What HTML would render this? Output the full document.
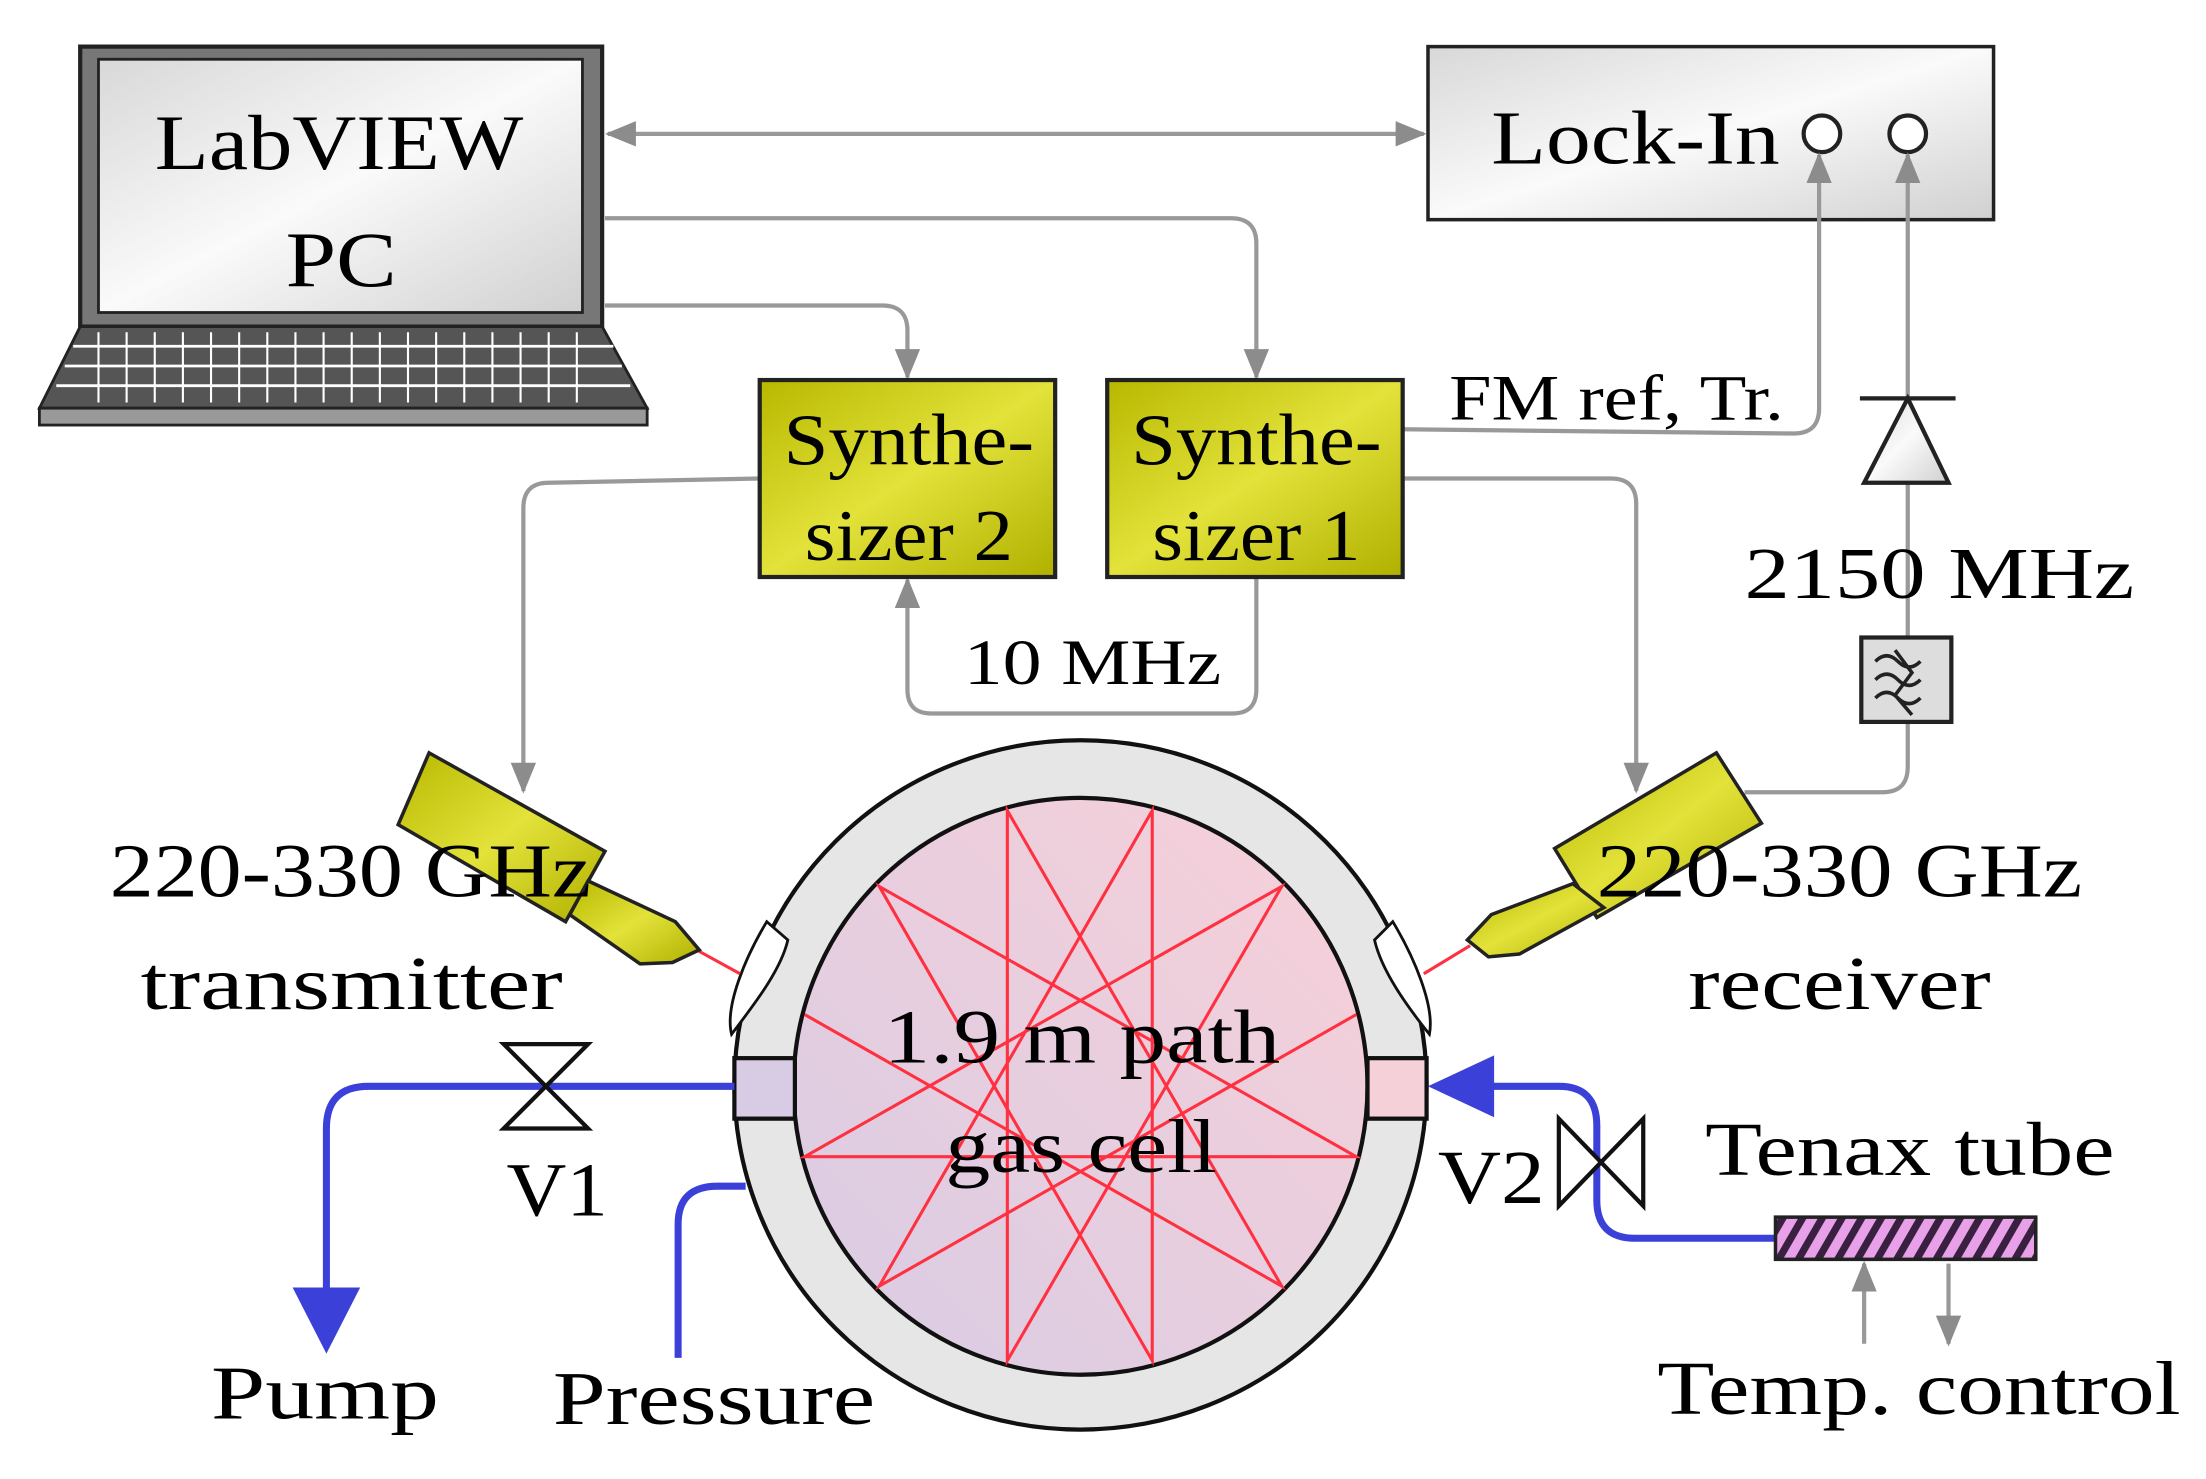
<!DOCTYPE html>
<html><head><style>html,body{margin:0;padding:0;background:#fff}svg{display:block}</style></head><body>
<svg width="2206" height="1479" viewBox="0 0 1568 1051" xmlns="http://www.w3.org/2000/svg" font-family="'Liberation Serif',serif">
<defs>
<marker id="gb" markerWidth="22" markerHeight="22" refX="20" refY="11" orient="auto-start-reverse" markerUnits="userSpaceOnUse"><path d="M0,2 L22,11 L0,20 Z" fill="#8c8c8c"/></marker>
<linearGradient id="scr" x1="0" y1="0" x2="1" y2="1"><stop offset="0" stop-color="#d8d8d8"/><stop offset=".5" stop-color="#fafafa"/><stop offset="1" stop-color="#d0d0d0"/></linearGradient>
<linearGradient id="yel" x1="0" y1="0" x2="1" y2="1"><stop offset="0" stop-color="#b8b800"/><stop offset=".5" stop-color="#e2e23a"/><stop offset="1" stop-color="#b0b000"/></linearGradient>
<linearGradient id="cell" x1="0" y1="1" x2="1" y2="0"><stop offset="0" stop-color="#d8cce4"/><stop offset="1" stop-color="#f8d0d8"/></linearGradient>
<pattern id="str" width="14" height="30" patternUnits="userSpaceOnUse" patternTransform="skewX(-30)"><rect width="14" height="30" fill="#e8a0e8"/><rect width="6" height="30" fill="#3a2040"/></pattern>
</defs>

<!-- laptop -->
<rect x="57" y="33" width="371" height="199" fill="#777" stroke="#222" stroke-width="3"/>
<rect x="70" y="42" width="344" height="180" fill="url(#scr)" stroke="#222" stroke-width="2"/>
<path d="M57,232 L428,232 L460,290 L28,290 Z" fill="#555" stroke="#222" stroke-width="2"/>
<rect x="28" y="290" width="432" height="12" fill="#999" stroke="#222" stroke-width="2"/>
<g stroke="#fff" stroke-width="2">
<line x1="52" y1="246" x2="436" y2="246"/><line x1="46" y1="260" x2="442" y2="260"/><line x1="40" y1="274" x2="448" y2="274"/>
</g>
<g stroke="#fff" stroke-width="1.5">
<path d="M90,236 V286 M130,236 V286 M170,236 V286 M210,236 V286 M250,236 V286 M290,236 V286 M330,236 V286 M370,236 V286 M410,236 V286 M110,236 V286 M150,236 V286 M190,236 V286 M230,236 V286 M270,236 V286 M310,236 V286 M350,236 V286 M390,236 V286 M70,236 V286"/>
</g>
<text x="110" y="120" font-size="56" textLength="262" lengthAdjust="spacingAndGlyphs">LabVIEW</text>
<text x="203" y="203" font-size="56" textLength="79" lengthAdjust="spacingAndGlyphs">PC</text>

<!-- lock-in -->
<rect x="1015" y="33" width="402" height="123" fill="url(#scr)" stroke="#222" stroke-width="2.5"/>
<text x="1060" y="116" font-size="54" textLength="205" lengthAdjust="spacingAndGlyphs">Lock-In</text>
<circle cx="1295" cy="95" r="13" fill="#fff" stroke="#222" stroke-width="3"/>
<circle cx="1356" cy="95" r="13" fill="#fff" stroke="#222" stroke-width="3"/>

<g fill="none" stroke="#999" stroke-width="3">
<line x1="432" y1="95" x2="1012" y2="95" marker-start="url(#gb)" marker-end="url(#gb)"/>
<path d="M430,155 H875 Q893,155 893,173 V268" marker-end="url(#gb)"/>
<path d="M430,217 H627 Q645,217 645,235 V268" marker-end="url(#gb)"/>
<path d="M997,305 L1275,308 Q1293,308 1293,290 V110" marker-end="url(#gb)"/>
<path d="M997,340 H1145 Q1163,340 1163,358 V562" marker-end="url(#gb)"/>
<path d="M540,340 L390,343 Q372,343 372,361 V562" marker-end="url(#gb)"/>
<path d="M893,410 V490 Q893,507 876,507 H662 Q645,507 645,490 V412" marker-end="url(#gb)"/>
<path d="M1240,563 H1338 Q1356,563 1356,545 V110" marker-end="url(#gb)"/>
<line x1="1325" y1="955" x2="1325" y2="898" marker-end="url(#gb)"/>
<line x1="1385" y1="898" x2="1385" y2="955" marker-end="url(#gb)"/>
</g>

<!-- synths -->
<rect x="540" y="270" width="210" height="140" fill="url(#yel)" stroke="#222" stroke-width="3"/>
<rect x="787" y="270" width="210" height="140" fill="url(#yel)" stroke="#222" stroke-width="3"/>
<text x="557" y="330" font-size="52" textLength="178" lengthAdjust="spacingAndGlyphs">Synthe-</text>
<text x="572" y="398" font-size="52" textLength="148" lengthAdjust="spacingAndGlyphs">sizer 2</text>
<text x="804" y="330" font-size="52" textLength="178" lengthAdjust="spacingAndGlyphs">Synthe-</text>
<text x="819" y="398" font-size="52" textLength="148" lengthAdjust="spacingAndGlyphs">sizer 1</text>
<text x="1030" y="298" font-size="46" textLength="238" lengthAdjust="spacingAndGlyphs">FM ref, Tr.</text>
<text x="685" y="486" font-size="46" textLength="183" lengthAdjust="spacingAndGlyphs">10 MHz</text>

<!-- diode & filter -->
<path d="M1356,283 L1385,343 L1325,343 Z" fill="url(#scr)" stroke="#222" stroke-width="3"/>
<line x1="1322" y1="283" x2="1390" y2="283" stroke="#222" stroke-width="3"/>
<text x="1240" y="425" font-size="52" textLength="277" lengthAdjust="spacingAndGlyphs">2150 MHz</text>
<rect x="1323" y="453" width="64" height="60" fill="#ddd" stroke="#222" stroke-width="3"/>
<path d="M1333,470 q8,-8 16,0 t16,0 M1333,483 q8,-8 16,0 t16,0 M1333,496 q8,-8 16,0 t16,0 M1347,462 l12,16 -12,16 12,14" fill="none" stroke="#222" stroke-width="2.5"/>

<!-- gas cell -->
<ellipse cx="768" cy="771" rx="246" ry="245" fill="#e6e6e6" stroke="#111" stroke-width="3"/>
<ellipse cx="768" cy="772" rx="204" ry="205" fill="url(#cell)" stroke="#111" stroke-width="3"/>
<rect x="522" y="752" width="43" height="43" fill="#d8cce4" stroke="#111" stroke-width="3"/>
<rect x="972" y="752" width="42" height="43" fill="#f5d0d8" stroke="#111" stroke-width="3"/>
<path d="M545,655 C530,680 515,715 520,735 C535,715 555,690 560,668 Z" fill="#fff" stroke="#111" stroke-width="2"/>
<path d="M990,655 C1005,680 1020,715 1016,735 C1000,715 982,690 977,668 Z" fill="#fff" stroke="#111" stroke-width="2"/>
<g stroke="#ff3040" stroke-width="2.2" fill="none">
<polyline points="572,721 911,914 716,576 716,967 911,630 572,822 964,822 625,630 819,967 819,576 625,914 964,721"/>
<line x1="495" y1="675" x2="526" y2="692"/>
<line x1="1045" y1="672" x2="1012" y2="692"/>
</g>
<text x="628" y="755" font-size="54" textLength="282" lengthAdjust="spacingAndGlyphs">1.9 m path</text>
<text x="672" y="833" font-size="54" textLength="193" lengthAdjust="spacingAndGlyphs">gas cell</text>

<!-- horns -->
<path d="M305,535 L430,605 L402,655 L283,586 Z" fill="url(#yel)" stroke="#222" stroke-width="2.5"/>
<path d="M418,626 L480,655 L497,675 L478,684 L455,685 L405,650 Z" fill="url(#yel)" stroke="#222" stroke-width="2.5"/>
<path d="M1220,535 L1252,585 L1135,652 L1105,603 Z" fill="url(#yel)" stroke="#222" stroke-width="2.5"/>
<path d="M1118,628 L1060,650 L1043,668 L1058,680 L1080,678 L1140,645 Z" fill="url(#yel)" stroke="#222" stroke-width="2.5"/>
<text x="78" y="637" font-size="54" textLength="342" lengthAdjust="spacingAndGlyphs">220-330 GHz</text>
<text x="100" y="717" font-size="54" textLength="300" lengthAdjust="spacingAndGlyphs">transmitter</text>
<text x="1135" y="637" font-size="54" textLength="345" lengthAdjust="spacingAndGlyphs">220-330 GHz</text>
<text x="1200" y="717" font-size="54" textLength="215" lengthAdjust="spacingAndGlyphs">receiver</text>

<!-- blue pipes -->
<g fill="none" stroke="#3a40d8" stroke-width="5">
<path d="M522,772 H262 Q232,772 232,802 V920"/>
<path d="M530,843 H510 Q482,843 482,870 V965"/>
<path d="M1262,880 H1162 Q1135,880 1135,853 V800 Q1135,772 1108,772 H1060"/>
</g>
<path d="M208,915 L256,915 L232,962 Z" fill="#3a40d8"/>
<path d="M1015,772 L1062,750 L1062,794 Z" fill="#3a40d8"/>
<path d="M358,742 L418,742 L388,772 L418,802 L358,802 L388,772 Z" fill="#fff" stroke="#111" stroke-width="3"/>
<path d="M1108,795 L1108,857 L1138,826 L1168,857 L1168,795 L1138,826 Z" fill="#fff" stroke="#111" stroke-width="3"/>
<rect x="1262" y="865" width="185" height="30" fill="url(#str)" stroke="#222" stroke-width="2.5"/>

<text x="360" y="864" font-size="54" textLength="72" lengthAdjust="spacingAndGlyphs">V1</text>
<text x="1022" y="855" font-size="54" textLength="76" lengthAdjust="spacingAndGlyphs">V2</text>
<text x="1212" y="835" font-size="54" textLength="291" lengthAdjust="spacingAndGlyphs">Tenax tube</text>
<text x="150" y="1008" font-size="54" textLength="162" lengthAdjust="spacingAndGlyphs">Pump</text>
<text x="393" y="1012" font-size="54" textLength="229" lengthAdjust="spacingAndGlyphs">Pressure</text>
<text x="1178" y="1005" font-size="54" textLength="372" lengthAdjust="spacingAndGlyphs">Temp. control</text>
</svg>
</body></html>
